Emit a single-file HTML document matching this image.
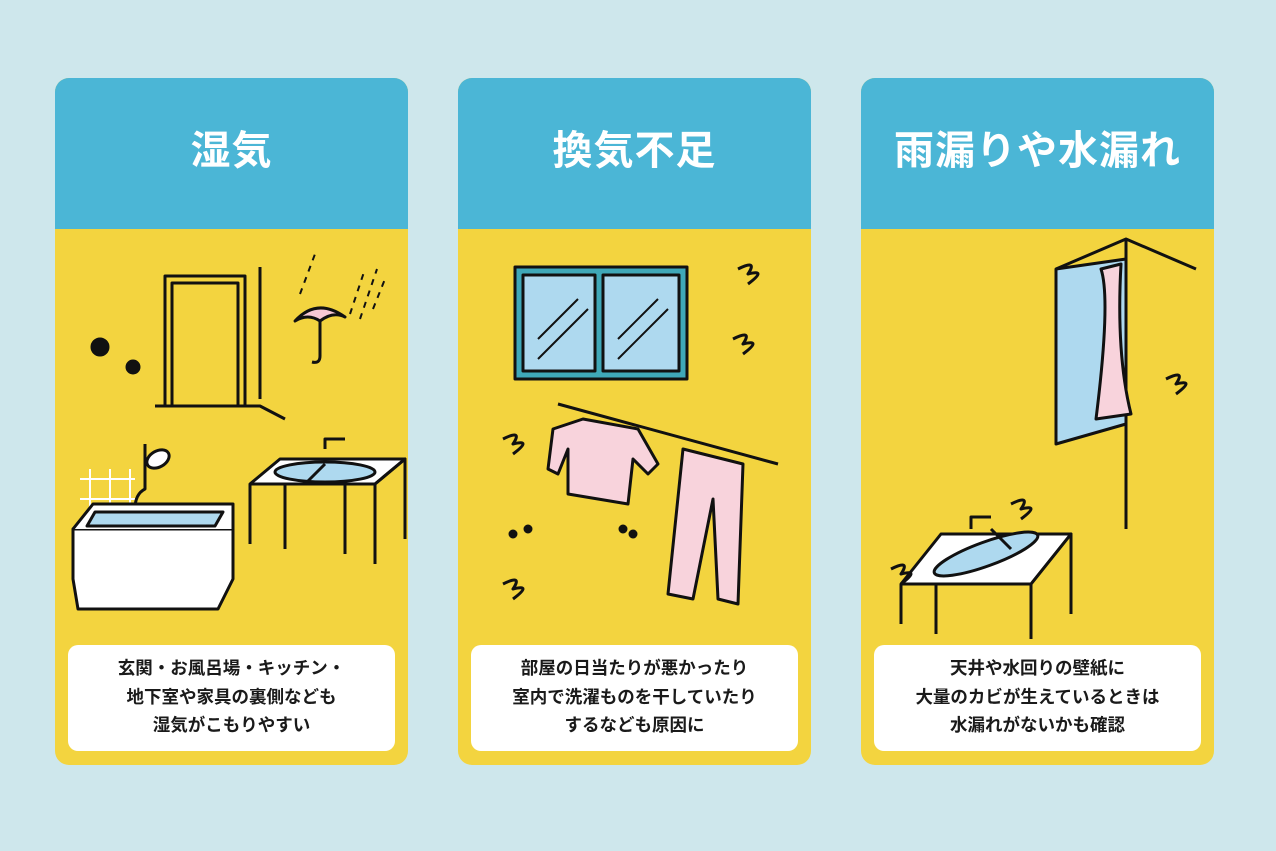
<!DOCTYPE html>
<html><head><meta charset="utf-8"><style>
body{margin:0;width:1276px;height:851px;background:#cee7ec;position:relative;overflow:hidden;font-family:"Liberation Sans","Noto Sans CJK JP",sans-serif}
.card{position:absolute;top:78px;width:353px;height:687px;border-radius:14px;overflow:hidden;background:#f3d43f}
.hd{height:151px;background:#4bb6d6;color:#fff;font-weight:bold;font-size:40px;text-align:center;line-height:146px;letter-spacing:1px}
.box{position:absolute;left:13px;top:567px;width:327px;height:106px;background:#fff;border-radius:10px;text-align:center;font-size:17.5px;font-weight:bold;color:#1a1a1a;line-height:28.5px;padding-top:9px;box-sizing:border-box}
svg{position:absolute;left:0;top:151px}
</style></head><body>
<div class="card" style="left:55px"><div class="hd">湿気</div>
<svg width="353" height="410" fill="none" stroke="#111" stroke-width="3" stroke-linejoin="round">
<rect x="110" y="47" width="80" height="130" fill="#f3d43f"/><rect x="117" y="54" width="66" height="123"/>
<line x1="205" y1="38" x2="205" y2="170"/><polyline points="100,177 205,177 230,190"/>
<path d="M240 92 q22-24 50-4 q-12 -6 -25 4 q-12-8-25 0z" fill="#f8c8d4"/><path d="M265 92 v35 q0 8-8 6"/>
<g stroke-width="2" stroke-dasharray="6 6"><line x1="295" y1="85" x2="310" y2="40"/><line x1="305" y1="90" x2="322" y2="40"/><line x1="318" y1="80" x2="330" y2="50"/><line x1="245" y1="65" x2="260" y2="25"/></g>
<circle cx="45" cy="118" r="8" fill="#111"/><circle cx="78" cy="138" r="6" fill="#111"/>
<g stroke="#fff" stroke-width="2"><path d="M25 250 h55 M25 270 h55 M25 290 h55 M35 240 v70 M55 240 v70 M75 240 v70"/></g>
<path d="M80 340 v-60 q0-15 10-20 v-45" /><ellipse cx="103" cy="230" rx="12" ry="8" fill="#fff" transform="rotate(-30 103 230)"/>
<path d="M18 300 h160 v50 l-15 30 h-140 l-5-30z" fill="#fff"/><path d="M18 300 l20-25 h140 v25" fill="#fff"/><path d="M40 283 h128 l-8 14 h-128z" fill="#aed9ef"/>
<path d="M195 255 l30-25 h125 l-30 25z" fill="#fff"/><path d="M195 255 h125 v80 M320 255 l30-25 v80 M195 255 v60 M230 255 v65 M290 255 v70"/>
<ellipse cx="270" cy="243" rx="50" ry="10" fill="#aed9ef"/><path d="M270 220 v-10 h20 M250 255 l20-20"/>
</svg>
<div class="box">玄関・お風呂場・キッチン・<br>地下室や家具の裏側なども<br>湿気がこもりやすい</div></div>

<div class="card" style="left:458px"><div class="hd">換気不足</div>
<svg width="353" height="410" fill="none" stroke="#111" stroke-width="3" stroke-linejoin="round">
<rect x="57" y="38" width="172" height="112" fill="#3fa8b8"/><rect x="65" y="46" width="72" height="96" fill="#aed9ef"/><rect x="145" y="46" width="76" height="96" fill="#aed9ef"/>
<path d="M80 110 l40-40 M80 130 l50-50 M160 110 l40-40 M160 130 l50-50" stroke-width="2"/>
<line x1="100" y1="175" x2="320" y2="235"/>
<path d="M125 190 l-30 10 l-5 40 l10 5 l10-25 l0 45 l60 10 l5-45 l15 15 l10-10 l-20-35z" fill="#f8d3dc"/>
<path d="M225 220 l60 15 l-5 140 l-20 -5 l-5-100 l-20 100 l-25-5z" fill="#f8d3dc"/>
<g fill="#111"><circle cx="55" cy="305" r="3"/><circle cx="70" cy="300" r="3"/><circle cx="165" cy="300" r="3"/><circle cx="175" cy="305" r="3"/></g>
<path d="M45 210 q20-10 10 5 q20-5 0 10 M45 355 q20-10 10 5 q20-5 0 10 M280 40 q20-10 10 5 q20-5 0 10 M275 110 q20-10 10 5 q20-5 0 10"/>
</svg>
<div class="box">部屋の日当たりが悪かったり<br>室内で洗濯ものを干していたり<br>するなども原因に</div></div>

<div class="card" style="left:861px"><div class="hd">雨漏りや水漏れ</div>
<svg width="353" height="410" fill="none" stroke="#111" stroke-width="3" stroke-linejoin="round">
<path d="M195 40 v175 l70-20 v-165z" fill="#aed9ef"/><path d="M195 40 l70-30 l70 30"/><path d="M265 10 v290"/>
<path d="M240 40 q10 30-5 150 l35 -5 q-15-60-10-150z" fill="#f8d3dc"/>
<path d="M40 355 l40-50 h130 l-40 50z" fill="#fff"/><path d="M40 355 h130 v60 M170 355 l40-50 v80 M40 355 v40 M75 355 v50"/>
<ellipse cx="125" cy="325" rx="55" ry="12" fill="#aed9ef" transform="rotate(-20 125 325)"/><path d="M110 300 v-12 h20 M130 300 l20 20"/>
<path d="M30 340 q20-10 10 5 q20-5 0 10 M150 275 q20-10 10 5 q20-5 0 10 M305 150 q20-10 10 5 q20-5 0 10"/>
</svg>
<div class="box">天井や水回りの壁紙に<br>大量のカビが生えているときは<br>水漏れがないかも確認</div></div>
</body></html>
